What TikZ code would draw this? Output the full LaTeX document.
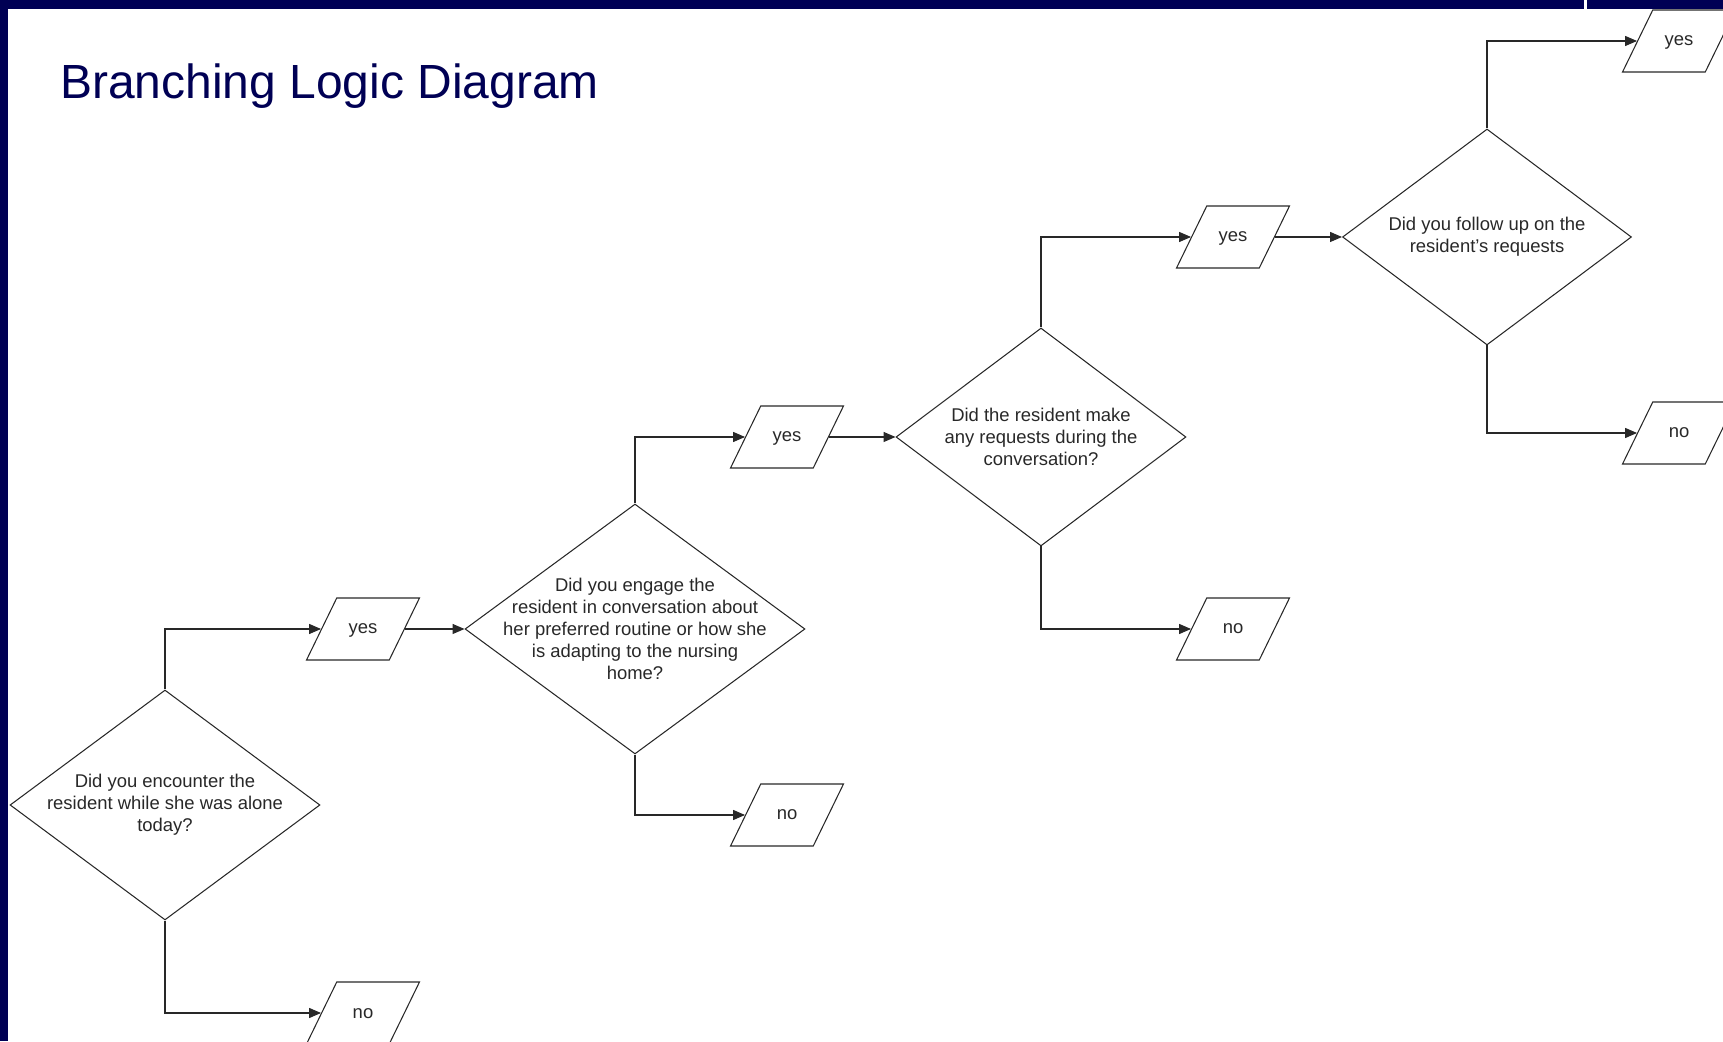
\documentclass[tikz,border=0pt]{standalone}
\usepackage{fontspec}
\setmainfont{Liberation Sans}
\usetikzlibrary{shapes.geometric, arrows.meta}
\definecolor{navy}{RGB}{0,0,84}
\definecolor{ink}{RGB}{40,40,40}

\begin{document}
\begin{tikzpicture}[x=0.02cm, y=0.02cm,
	decision/.style={diamond, draw=ink, line width=0.6pt, inner sep=0pt},
	question/.style={align=center, font=\fontsize{10.5}{12.5}\selectfont, text=ink},
	answer/.style={trapezium, trapezium left angle=64, trapezium right angle=116,
		trapezium stretches body, draw=ink, line width=0.6pt,
		text height=0.25cm, text depth=0.05cm, inner xsep=0pt, inner ysep=0.47cm,
		minimum width=2.26cm,
		font=\fontsize{10.5}{12.5}\selectfont, text=ink},
	flow/.style={draw=ink, line width=0.6pt, -{Triangle[length=6.8pt, width=5.7pt]}}]
	\useasboundingbox (0,0) rectangle (1723,1041);
	\clip (0,0) rectangle (1723,1041);

	% frame and title
	\fill[navy] (0,1032) rectangle (1584,1041);
	\fill[navy] (1587,1032) rectangle (1723,1041);
	\fill[navy] (0,0) rectangle (8,1041);
	\node[anchor=base west, inner sep=0pt, text=navy, font=\fontsize{27.3}{32}\selectfont] (title) at (60,942) {Branching Logic Diagram};

	% first question
	\node[decision, minimum width=6.2cm, minimum height=4.6cm] (q-1) at (165,236) {};
	\node[question] at (q-1) {Did you encounter the\\resident while she was alone\\today?};
	\node[answer] (yes-1) at (363,412) {yes};
	\node[answer] (no-1) at (363,28) {no};

	\draw[flow] (q-1.north) |- (yes-1.left side);
	\draw[flow] (q-1.south) |- (no-1.left side);

	% second question
	\node[decision, minimum width=6.8cm, minimum height=5cm] (q-2) at (635,412) {};
	\node[question] at (q-2) {Did you engage the\\resident in conversation about\\her preferred routine or how she\\is adapting to the nursing\\home?};
	\node[answer] (yes-2) at (787,604) {yes};
	\node[answer] (no-2) at (787,226) {no};

	\draw[flow] (yes-1.right side) -- (q-2.west);
	\draw[flow] (q-2.north) |- (yes-2.left side);
	\draw[flow] (q-2.south) |- (no-2.left side);

	% third question
	\node[decision, minimum width=5.8cm, minimum height=4.36cm] (q-3) at (1041,604) {};
	\node[question] at (q-3) {Did the resident make\\any requests during the\\conversation?};
	\node[answer] (yes-3) at (1233,804) {yes};
	\node[answer] (no-3) at (1233,412) {no};

	\draw[flow] (yes-2.right side) -- (q-3.west);
	\draw[flow] (q-3.north) |- (yes-3.left side);
	\draw[flow] (q-3.south) |- (no-3.left side);

	% fourth question
	\node[decision, minimum width=5.78cm, minimum height=4.32cm] (q-4) at (1487,804) {};
	\node[question] at (q-4) {Did you follow up on the\\resident's requests};
	\node[answer] (yes-4) at (1679,1000) {yes};
	\node[answer] (no-4) at (1679,608) {no};

	\draw[flow] (yes-3.right side) -- (q-4.west);
	\draw[flow] (q-4.north) |- (yes-4.left side);
	\draw[flow] (q-4.south) |- (no-4.left side);
\end{tikzpicture}
\end{document}
